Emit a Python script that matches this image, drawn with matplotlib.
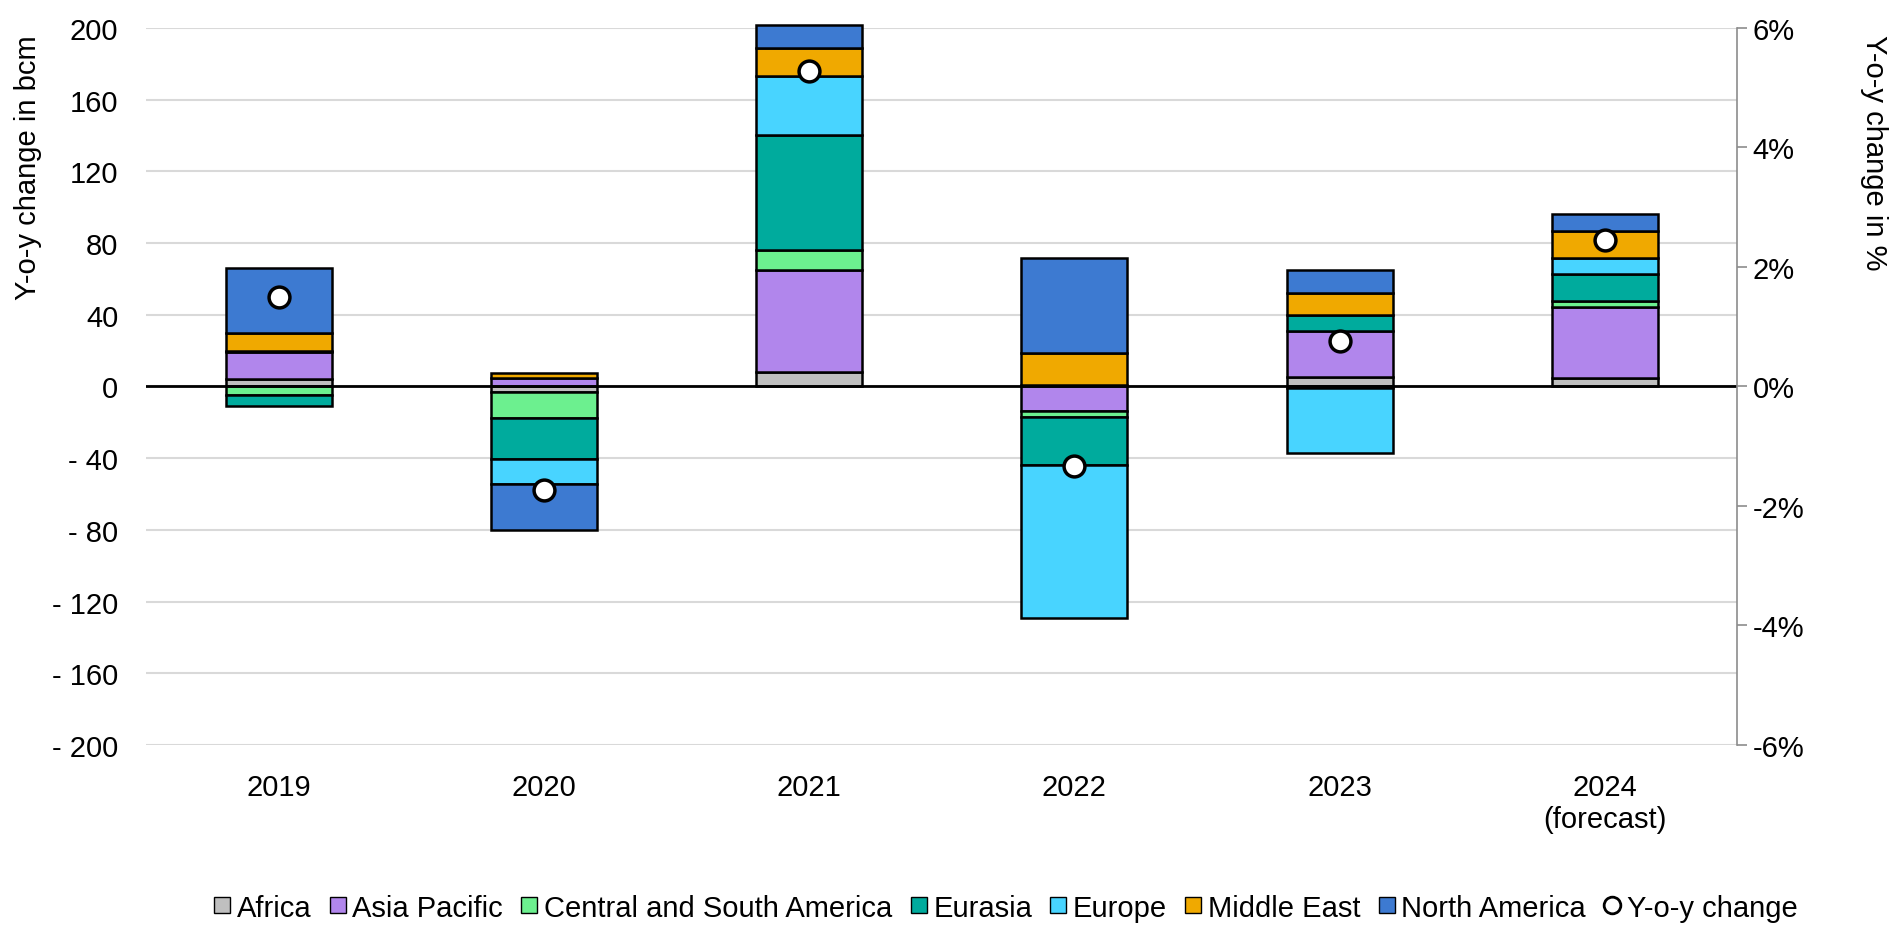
import matplotlib.pyplot as plt
from matplotlib.lines import Line2D
import numpy as np

plt.rcParams['font.family'] = ['Liberation Sans', 'DejaVu Sans']

# Annual change in gas demand by region (bcm) and global y-o-y growth (%)
years = ['2019', '2020', '2021', '2022', '2023', '2024\n(forecast)']
regions = ['Africa', 'Asia Pacific', 'Central and South America', 'Eurasia',
           'Europe', 'Middle East', 'North America']

africa = [4, -3, 8, 0.6, 5.5, 4.5]
asia_pacific = [15, 4.5, 57, -14, 25.5, 40]
central_south_america = [-5, -14.5, 11, -3, -1, 3]
eurasia = [-6, -23, 64, -27, 9, 15]
europe = [1, -14, 33, -85, -36, 9]
middle_east = [10, 3, 16, 18, 12, 15]
north_america = [36, -25.5, 12.5, 53, 13, 9.5]

yoy_pct = [1.49, -1.74, 5.28, -1.34, 0.76, 2.45]

series = [africa, asia_pacific, central_south_america, eurasia,
          europe, middle_east, north_america]
colors = ['#BFBFBF', '#B186EC', '#6CF08F', '#00AB9D', '#48D4FF', '#F0A900', '#3D7AD1']

FS = 21

fig = plt.figure(figsize=(19.03, 9.29), dpi=100)
ax = fig.add_axes([0.0767, 0.197, 0.8363, 0.772])

x = np.arange(len(years))
pos_bottom = np.zeros(len(years))
neg_bottom = np.zeros(len(years))
for name, vals, c in zip(regions, series, colors):
    vals = np.array(vals, dtype=float)
    bottom = np.where(vals >= 0, pos_bottom, neg_bottom)
    bars = ax.bar(x, vals, 0.40, bottom=bottom, color=c, edgecolor='black',
                  linewidth=1.8, zorder=2)
    for b in bars:
        b.set_clip_on(False)
    pos_bottom += np.clip(vals, 0, None)
    neg_bottom += np.clip(vals, None, 0)

ax.axhline(0, color='black', linewidth=2, zorder=3)

ax.set_xlim(-0.5, 5.5)
ax.set_ylim(-200, 200)
yt = np.arange(-200, 201, 40)
ax.set_yticks(yt)
ax.set_yticklabels([f'- {abs(v)}' if v < 0 else f'{v}' for v in yt], fontsize=FS)
ax.set_xticks(x)
ax.set_xticklabels(years, fontsize=FS)
ax.tick_params(axis='y', length=0, pad=20)
ax.tick_params(axis='x', length=0, pad=20)
ax.grid(axis='y', color='#D9D9D9', linewidth=1.5, zorder=0)
ax.set_axisbelow(True)
for s in ax.spines.values():
    s.set_visible(False)

# Right axis for the percentage growth
ax2 = ax.twinx()
ax2.set_ylim(-6, 6)
ax2.set_yticks(np.arange(-6, 7, 2))
ax2.set_yticklabels([f'{v}%' for v in range(-6, 7, 2)], fontsize=FS)
for k in ['top', 'bottom', 'left']:
    ax2.spines[k].set_visible(False)
ax2.spines['right'].set_color('#8C8C8C')
ax2.spines['right'].set_linewidth(1.2)
ax2.tick_params(axis='y', length=7, width=1.2, color='#8C8C8C', pad=4)
ax2.plot(x, yoy_pct, linestyle='none', marker='o', markersize=15,
         markerfacecolor='white', markeredgecolor='black', markeredgewidth=2.5,
         zorder=5)

# Axis titles sit at the top of each side
fig.text(0.0145, 0.962, 'Y-o-y change in bcm', fontsize=FS, rotation=90,
         ha='center', va='top')
fig.text(0.985, 0.962, 'Y-o-y change in %', fontsize=FS, rotation=270,
         ha='center', va='top')

handles = [Line2D([], [], linestyle='none', marker='s', markersize=12,
                  markerfacecolor=c, markeredgecolor='black', markeredgewidth=1)
           for c in colors]
handles.append(Line2D([], [], linestyle='none', marker='o', markersize=12,
                      markerfacecolor='white', markeredgecolor='black',
                      markeredgewidth=2))
labels = regions + ['Y-o-y change']
fig.legend(handles, labels, loc='center', bbox_to_anchor=(0.528, 0.022),
           ncol=8, frameon=False, fontsize=FS, handlelength=0.7,
           handletextpad=0.15, columnspacing=0.55, borderaxespad=0)

fig.savefig('out.png', dpi=100)
